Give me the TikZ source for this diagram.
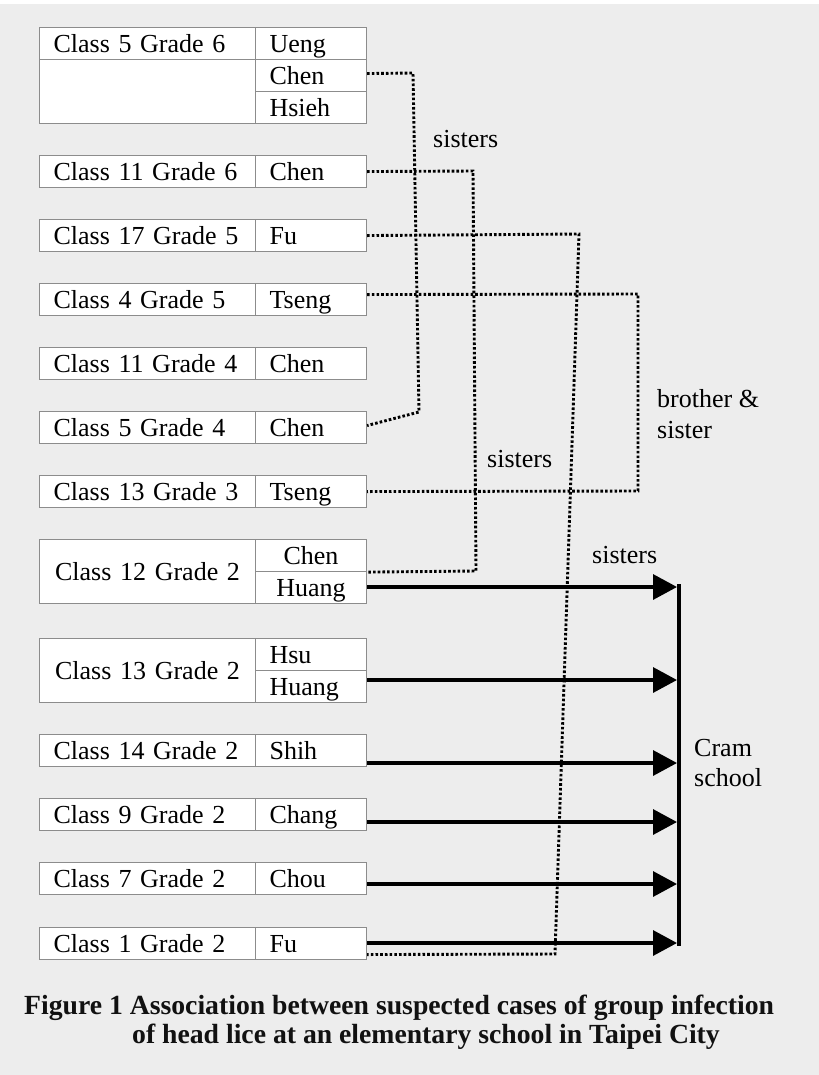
\documentclass[tikz,border=0pt]{standalone}
\usepackage{fontspec}
\setmainfont{Liberation Serif}
\usetikzlibrary{arrows.meta}
\definecolor{bggray}{HTML}{EDEDED}
\definecolor{boxgray}{HTML}{8C8C8C}
\definecolor{captxt}{HTML}{111111}
\begin{document}
\begin{tikzpicture}[x=1bp,y=-1bp,
  cell/.style={draw=boxgray, line width=1.1bp, fill=white, anchor=north west,
    inner ysep=0pt, inner xsep=14bp, text height=21bp, text depth=3bp,
    font=\fontsize{26bp}{30bp}\selectfont, align=left, minimum height=32bp},
  cls/.style={cell, text width=188bp},
  nm/.style={cell, text width=83bp},
  dotline/.style={line width=2.9bp, dash pattern=on 2.6bp off 2.1bp, black},
  arr/.style={line width=3.3bp, black, -{Triangle[length=24bp,width=25bp]}},
  bar/.style={line width=3.5bp, black},
  lbl/.style={anchor=base west, inner sep=0pt, font=\fontsize{26bp}{30bp}\selectfont},
  captext/.style={anchor=base west, inner sep=0pt, text=captxt,
    font=\fontsize{27.7bp}{31bp}\selectfont\bfseries}
]
\useasboundingbox (0,0) rectangle (819,1075);
\fill[bggray] (0,0) rectangle (819,1075);
\fill[white] (0,0) rectangle (819,4);

% boxes
\node[cls] (c56) at (39,27) {Class 5 Grade 6};
\node[cls, minimum height=64bp] (c56b) at (39,59) {};
\node[nm] (ueng) at (255,27) {Ueng};
\node[nm] (chen56) at (255,59) {Chen};
\node[nm] (hsieh) at (255,91) {Hsieh};

\node[cls] (c116) at (39,155) {Class 11 Grade 6};
\node[nm] (chen116) at (255,155) {Chen};
\node[cls] (c175) at (39,219) {Class 17 Grade 5};
\node[nm] (fu175) at (255,219) {Fu};
\node[cls] (c45) at (39,283) {Class 4 Grade 5};
\node[nm] (tseng45) at (255,283) {Tseng};
\node[cls] (c114) at (39,347) {Class 11 Grade 4};
\node[nm] (chen114) at (255,347) {Chen};
\node[cls] (c54) at (39,411) {Class 5 Grade 4};
\node[nm] (chen54) at (255,411) {Chen};
\node[cls] (c133) at (39,475) {Class 13 Grade 3};
\node[nm] (tseng133) at (255,475) {Tseng};

\node[cls, minimum height=64bp, align=center] (c122) at (39,539) {Class 12 Grade 2};
\node[nm, align=center] (chen122) at (255,539) {Chen};
\node[nm, align=center] (huang122) at (255,571) {Huang};

\node[cls, minimum height=64bp, align=center] (c132) at (39,638) {Class 13 Grade 2};
\node[nm] (hsu132) at (255,638) {Hsu};
\node[nm] (huang132) at (255,670) {Huang};

\node[cls] (c142) at (39,734) {Class 14 Grade 2};
\node[nm] (shih142) at (255,734) {Shih};
\node[cls] (c92) at (39,798) {Class 9 Grade 2};
\node[nm] (chang92) at (255,798) {Chang};
\node[cls] (c72) at (39,862) {Class 7 Grade 2};
\node[nm] (chou72) at (255,862) {Chou};
\node[cls] (c12) at (39,927) {Class 1 Grade 2};
\node[nm] (fu12) at (255,927) {Fu};

% dotted relations
\coordinate (a1) at (413,73);  \coordinate (a2) at (419,412);
\draw[dotline] ([yshift=2bp]chen56.east) -- (a1) -- (a2) -- ([yshift=2bp]chen54.east);
\coordinate (b1) at (473,171); \coordinate (b2) at (476,571);
\draw[dotline] (chen116.east) -- (b1) -- (b2) -- (chen122.south east);
\coordinate (f1) at (579,234); \coordinate (f2) at (555,954);
\draw[dotline] (fu175.east) -- (f1) -- (f2) -- ([yshift=-11bp]fu12.east);
\coordinate (s1) at (638,294); \coordinate (s2) at (638,491);
\draw[dotline] ([yshift=5bp]tseng45.east) -- (s1) -- (s2) -- (tseng133.east);

% cram school arrows
\coordinate (t1) at (677,587);
\coordinate (t2) at (677,680);
\coordinate (t3) at (677,763);
\coordinate (t4) at (677,822);
\coordinate (t5) at (677,884);
\coordinate (t6) at (677,943);
\draw[arr] (huang122.east |- t1) -- (t1);
\draw[arr] (huang132.east |- t2) -- (t2);
\draw[arr] (shih142.east |- t3) -- (t3);
\draw[arr] (chang92.east |- t4) -- (t4);
\draw[arr] (chou72.east |- t5) -- (t5);
\draw[arr] (fu12.east |- t6) -- (t6);
\coordinate (bt) at (679,584); \coordinate (bb) at (679,946);
\draw[bar] (bt) -- (bb);

% labels
\node[lbl] (l1) at (433,147) {sisters};
\node[lbl] (l2) at (487,467) {sisters};
\node[lbl] (l3) at (592,563) {sisters};
\node[lbl] (l4) at (657,407) {brother \&};
\node[lbl] (l5) at (657,438) {sister};
\node[lbl] (l6) at (694,756) {Cram};
\node[lbl] (l7) at (694,786) {school};

% caption
\node[captext] (cap1) at (24,1014) {Figure 1 Association between suspected cases of group infection};
\node[captext] (cap2) at (132,1043) {of head lice at an elementary school in Taipei City};
\end{tikzpicture}
\end{document}
